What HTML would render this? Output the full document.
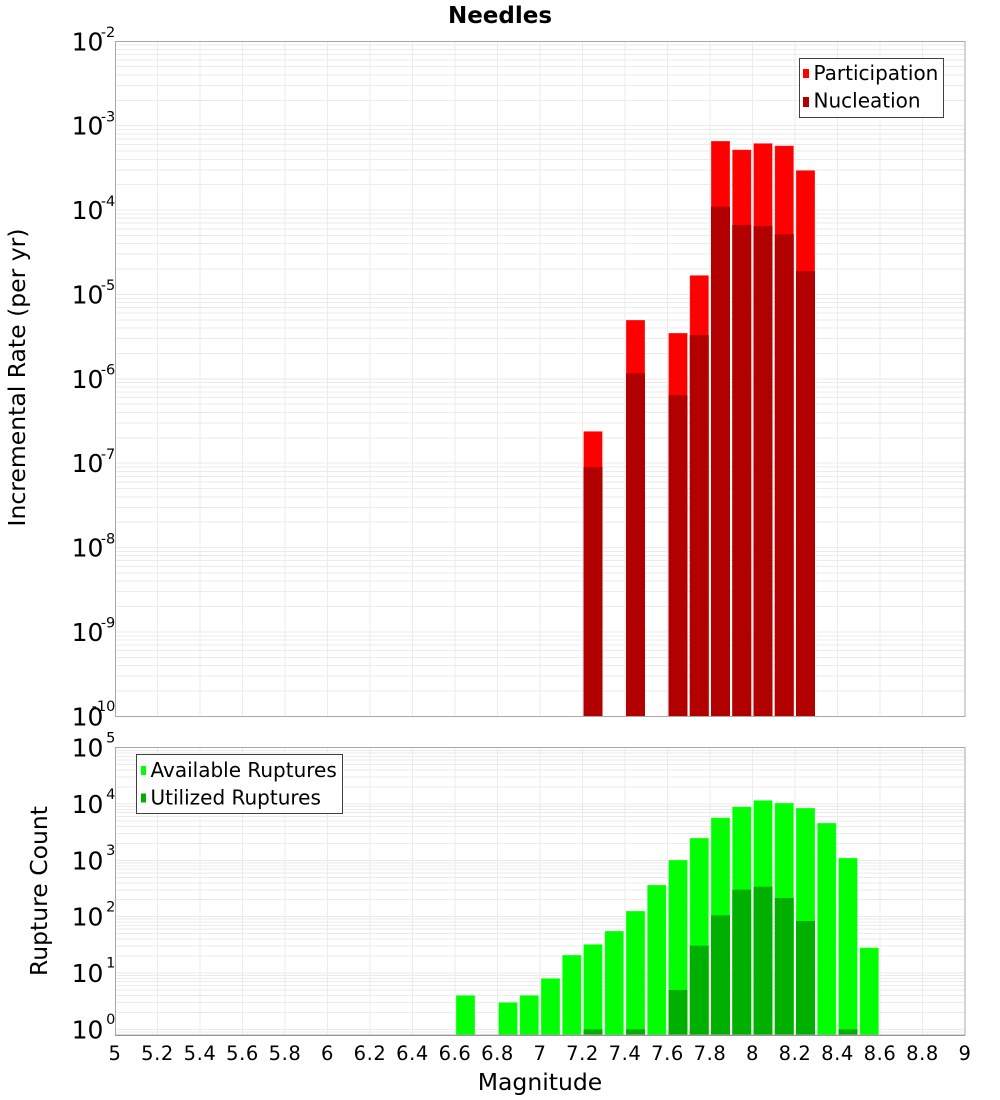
<!DOCTYPE html>
<html>
<head>
<meta charset="utf-8">
<style>
html,body{margin:0;padding:0;background:#fff;}
svg{display:block;}
text{font-family:"DejaVu Sans","Liberation Sans",sans-serif;fill:#000;}
</style>
</head>
<body>
<svg width="1000" height="1100" viewBox="0 0 1000 1100" xmlns="http://www.w3.org/2000/svg">
<rect x="0" y="0" width="1000" height="1100" fill="#fff"/>

<!-- Title -->
<text x="500" y="23" text-anchor="middle" font-size="23" font-weight="bold">Needles</text>

<!-- ===== TOP PLOT ===== -->
<rect x="115" y="41" width="850" height="675" fill="#fff"/>
<g stroke="#ebebeb" stroke-width="1" shape-rendering="crispEdges" fill="none">
<path d="M157.5 41V716M200 41V716M242.5 41V716M285 41V716M327.5 41V716M370 41V716M412.5 41V716M455 41V716M497.5 41V716M540 41V716M582.5 41V716M625 41V716M667.5 41V716M710 41V716M752.5 41V716M795 41V716M837.5 41V716M880 41V716M922.5 41V716"/>
<path d="M115 45.16H965M115 49.48H965M115 54.37H965M115 60.02H965M115 66.71H965M115 74.88H965M115 85.42H965M115 100.28H965
M115 125.68H965M115 129.54H965M115 133.86H965M115 138.75H965M115 144.4H965M115 151.09H965M115 159.26H965M115 169.8H965M115 184.66H965
M115 210.05H965M115 213.91H965M115 218.23H965M115 223.12H965M115 228.77H965M115 235.46H965M115 243.63H965M115 254.17H965M115 269.03H965
M115 294.43H965M115 298.29H965M115 302.61H965M115 307.5H965M115 313.15H965M115 319.84H965M115 328.01H965M115 338.55H965M115 353.41H965
M115 378.8H965M115 382.66H965M115 386.98H965M115 391.87H965M115 397.52H965M115 404.21H965M115 412.38H965M115 422.92H965M115 437.78H965
M115 463.18H965M115 467.04H965M115 471.36H965M115 476.25H965M115 481.9H965M115 488.59H965M115 496.76H965M115 507.3H965M115 522.16H965
M115 547.55H965M115 551.41H965M115 555.73H965M115 560.62H965M115 566.27H965M115 572.96H965M115 581.13H965M115 591.67H965M115 606.53H965
M115 631.93H965M115 635.79H965M115 640.11H965M115 645H965M115 650.65H965M115 657.34H965M115 665.51H965M115 676.05H965M115 690.91H965"/>
</g>

<!-- top bars: participation -->
<g fill="#ff0000" stroke="rgba(255,255,255,0.35)" stroke-width="0.8">
<rect x="583.5" y="431.3" width="19" height="285"/>
<rect x="626" y="320" width="19" height="396.3"/>
<rect x="668.5" y="333" width="19" height="383.3"/>
<rect x="689.75" y="275.3" width="19" height="441"/>
<rect x="711" y="141" width="19" height="575.3"/>
<rect x="732.25" y="149.7" width="19" height="566.6"/>
<rect x="753.5" y="143.3" width="19" height="573"/>
<rect x="774.75" y="145.7" width="19" height="570.6"/>
<rect x="796" y="170.3" width="19" height="546"/>
</g>
<!-- top bars: nucleation -->
<g fill="#b20000">
<rect x="583.5" y="467" width="19" height="249.3"/>
<rect x="626" y="373.3" width="19" height="343"/>
<rect x="668.5" y="395" width="19" height="321.3"/>
<rect x="689.75" y="335" width="19" height="381.3"/>
<rect x="711" y="206.7" width="19" height="509.6"/>
<rect x="732.25" y="225" width="19" height="491.3"/>
<rect x="753.5" y="226" width="19" height="490.3"/>
<rect x="774.75" y="234.3" width="19" height="482"/>
<rect x="796" y="271" width="19" height="445.3"/>
</g>

<rect x="115.5" y="41.5" width="849.5" height="675" fill="none" stroke="#a8a8a8" stroke-width="1"/>

<!-- top legend -->
<rect x="799.5" y="58.5" width="144" height="59" fill="#fff" stroke="#404040" stroke-width="1"/>
<rect x="803" y="69" width="6" height="9" fill="#ff0000"/>
<rect x="803" y="97" width="6" height="10" fill="#b20000"/>
<text x="813.5" y="80" font-size="20">Participation</text>
<text x="813.5" y="107.5" font-size="20">Nucleation</text>

<!-- top y ticks -->
<g font-size="25" text-anchor="end">
<text x="103.4" y="50.3">10</text>
<text x="103.4" y="134.7">10</text>
<text x="103.4" y="219">10</text>
<text x="103.4" y="303.4">10</text>
<text x="103.4" y="387.8">10</text>
<text x="103.4" y="472.2">10</text>
<text x="103.4" y="556.6">10</text>
<text x="103.4" y="640.9">10</text>
<text x="103.4" y="725.3">10</text>
</g>
<g font-size="14.5" text-anchor="end">
<text x="115.3" y="37">-2</text>
<text x="115.3" y="121.4">-3</text>
<text x="115.3" y="205.8">-4</text>
<text x="115.3" y="290.2">-5</text>
<text x="115.3" y="374.5">-6</text>
<text x="115.3" y="458.9">-7</text>
<text x="115.3" y="543.3">-8</text>
<text x="115.3" y="627.7">-9</text>
<text x="115.3" y="711">-10</text>
</g>
<text transform="translate(25,377.5) rotate(-90)" text-anchor="middle" font-size="23.5">Incremental Rate (per yr)</text>

<!-- ===== BOTTOM PLOT ===== -->
<rect x="115" y="747.7" width="850" height="287.3" fill="#fff"/>
<g stroke="#ebebeb" stroke-width="1" shape-rendering="crispEdges" fill="none">
<path d="M157.5 748V1035M200 748V1035M242.5 748V1035M285 748V1035M327.5 748V1035M370 748V1035M412.5 748V1035M455 748V1035M497.5 748V1035M540 748V1035M582.5 748V1035M625 748V1035M667.5 748V1035M710 748V1035M752.5 748V1035M795 748V1035M837.5 748V1035M880 748V1035M922.5 748V1035"/>
<path d="M115 750.28H965M115 753.16H965M115 756.42H965M115 760.19H965M115 764.66H965M115 770.11H965M115 777.15H965M115 787.07H965
M115 804.02H965M115 806.6H965M115 809.48H965M115 812.74H965M115 816.51H965M115 820.98H965M115 826.43H965M115 833.47H965M115 843.39H965
M115 860.34H965M115 862.92H965M115 865.8H965M115 869.06H965M115 872.83H965M115 877.3H965M115 882.75H965M115 889.79H965M115 899.71H965
M115 916.66H965M115 919.24H965M115 922.12H965M115 925.38H965M115 929.15H965M115 933.62H965M115 939.07H965M115 946.11H965M115 956.03H965
M115 972.98H965M115 975.56H965M115 978.44H965M115 981.7H965M115 985.47H965M115 989.94H965M115 995.39H965M115 1002.43H965M115 1012.35H965
M115 1029.3H965M115 1031.88H965"/>
</g>

<!-- bottom bars: available -->
<g fill="#00ff00" stroke="rgba(255,255,255,0.35)" stroke-width="0.8">
<rect x="456" y="995.3" width="19" height="39.7"/>
<rect x="498.5" y="1002.3" width="19" height="32.7"/>
<rect x="519.75" y="995.3" width="19" height="39.7"/>
<rect x="541" y="978.3" width="19" height="56.7"/>
<rect x="562.25" y="955" width="19" height="80"/>
<rect x="583.5" y="944.3" width="19" height="90.7"/>
<rect x="604.75" y="931" width="19" height="104"/>
<rect x="626" y="911" width="19" height="124"/>
<rect x="647.25" y="885" width="19" height="150"/>
<rect x="668.5" y="860" width="19" height="175"/>
<rect x="689.75" y="838" width="19" height="197"/>
<rect x="711" y="817.7" width="19" height="217.3"/>
<rect x="732.25" y="806.7" width="19" height="228.3"/>
<rect x="753.5" y="800.3" width="19" height="234.7"/>
<rect x="774.75" y="803" width="19" height="232"/>
<rect x="796" y="808" width="19" height="227"/>
<rect x="817.25" y="823" width="19" height="212"/>
<rect x="838.5" y="858" width="19" height="177"/>
<rect x="859.75" y="947.7" width="19" height="87.3"/>
</g>
<!-- bottom bars: utilized -->
<g fill="#00b000">
<rect x="583.5" y="1029.3" width="19" height="5.7"/>
<rect x="626" y="1029.3" width="19" height="5.7"/>
<rect x="668.5" y="990" width="19" height="45"/>
<rect x="689.75" y="945.7" width="19" height="89.3"/>
<rect x="711" y="915.3" width="19" height="119.7"/>
<rect x="732.25" y="889.7" width="19" height="145.3"/>
<rect x="753.5" y="886.7" width="19" height="148.3"/>
<rect x="774.75" y="898" width="19" height="137"/>
<rect x="796" y="921" width="19" height="114"/>
<rect x="838.5" y="1029.3" width="19" height="5.7"/>
</g>

<rect x="115.5" y="747.5" width="849.5" height="287.5" fill="none" stroke="#a8a8a8" stroke-width="1"/>
<line x1="115" y1="1035.5" x2="965" y2="1035.5" stroke="#999" stroke-width="1"/>

<!-- bottom legend -->
<rect x="136.5" y="754.5" width="206" height="59" fill="#fff" stroke="#404040" stroke-width="1"/>
<rect x="141" y="766" width="5" height="9" fill="#00ff00"/>
<rect x="141" y="793.5" width="5" height="9" fill="#00b000"/>
<text x="150.5" y="777" font-size="20">Available Ruptures</text>
<text x="150.5" y="804.5" font-size="20">Utilized Ruptures</text>

<!-- bottom y ticks -->
<g font-size="25" text-anchor="end">
<text x="103.4" y="756.7">10</text>
<text x="103.4" y="813">10</text>
<text x="103.4" y="869.3">10</text>
<text x="103.4" y="925.7">10</text>
<text x="103.4" y="982">10</text>
<text x="103.4" y="1038.3">10</text>
</g>
<g font-size="14.5" text-anchor="end">
<text x="115.3" y="742.5">5</text>
<text x="115.3" y="798.8">4</text>
<text x="115.3" y="855.1">3</text>
<text x="115.3" y="911.4">2</text>
<text x="115.3" y="967.7">1</text>
<text x="115.3" y="1024">0</text>
</g>
<text transform="translate(47,891) rotate(-90)" text-anchor="middle" font-size="23.5">Rupture Count</text>

<!-- x ticks -->
<g font-size="19.5" text-anchor="middle" letter-spacing="0.6">
<text x="115" y="1060">5</text>
<text x="157.5" y="1060">5.2</text>
<text x="200" y="1060">5.4</text>
<text x="242.5" y="1060">5.6</text>
<text x="285" y="1060">5.8</text>
<text x="327.5" y="1060">6</text>
<text x="370" y="1060">6.2</text>
<text x="412.5" y="1060">6.4</text>
<text x="455" y="1060">6.6</text>
<text x="497.5" y="1060">6.8</text>
<text x="540" y="1060">7</text>
<text x="582.5" y="1060">7.2</text>
<text x="625" y="1060">7.4</text>
<text x="667.5" y="1060">7.6</text>
<text x="710" y="1060">7.8</text>
<text x="752.5" y="1060">8</text>
<text x="795" y="1060">8.2</text>
<text x="837.5" y="1060">8.4</text>
<text x="880" y="1060">8.6</text>
<text x="922.5" y="1060">8.8</text>
<text x="965" y="1060">9</text>
</g>
<text x="540" y="1090" text-anchor="middle" font-size="23.5">Magnitude</text>
</svg>
</body>
</html>
